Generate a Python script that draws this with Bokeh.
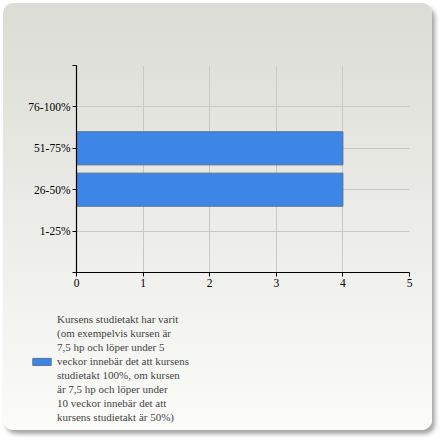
from bokeh.plotting import figure
from bokeh.layouts import column
from bokeh.models import Range1d, FixedTicker, Legend, LegendItem, ColumnDataSource
from bokeh.embed import file_html
from bokeh.resources import INLINE

categories = ["1-25%", "26-50%", "51-75%", "76-100%"]
values = [0, 4, 4, 0]
x_ticks = [0, 1, 2, 3, 4, 5]
series_label_lines = ["Kursens studietakt har varit", "(om exempelvis kursen är",
                      "7,5 hp och löper under 5", "veckor innebär det att kursens",
                      "studietakt 100%, om kursen", "är 7,5 hp och löper under",
                      "10 veckor innebär det att", "kursens studietakt är 50%)"]
swatch_line = 3   # the legend swatch sits beside this wrapped line

FONT = "Liberation Serif"
BAR_FILL, BAR_LINE = "#3d86e8", "#5a7090"
W = 429           # card from page (3,3) to (432,430)
H1, H2 = 290, 137

p = figure(width=W, height=H1, output_backend="svg", toolbar_location=None,
           x_range=Range1d(0, 5), y_range=Range1d(0, len(categories) + 1),
           min_border_left=73, min_border_right=W - 406,
           min_border_top=62, min_border_bottom=H1 - 269)
p.border_fill_color = None
p.background_fill_alpha = 0
p.outline_line_color = None
p.frame_align = False

src = ColumnDataSource(dict(y=list(range(1, len(categories) + 1)), v=values))
r = p.hbar(y="y", left=0, right="v", height=0.8, source=src,
           fill_color=BAR_FILL, line_color=BAR_LINE, line_width=1)

p.xaxis.ticker = FixedTicker(ticks=x_ticks)
p.yaxis.ticker = FixedTicker(ticks=list(range(0, len(categories) + 2)))
ov = {0: "", len(categories) + 1: ""}
for i, c in enumerate(categories):
    ov[i + 1] = c
p.yaxis.major_label_overrides = ov
for ax in (p.xaxis[0], p.yaxis[0]):
    ax.axis_line_color = "black"
    ax.axis_line_width = 1.2
    ax.major_tick_line_color = "black"
    ax.major_tick_in = 0
    ax.major_tick_out = 4
    ax.minor_tick_line_color = None
    ax.major_label_text_font = FONT
    ax.major_label_text_font_size = "11.5px"
    ax.major_label_text_color = "black"
    ax.major_label_standoff = 2
p.xgrid.grid_line_color = "#c8c8c4"
p.ygrid.grid_line_color = "#c8c8c4"
p.xgrid.ticker = FixedTicker(ticks=x_ticks[1:])
p.ygrid.ticker = FixedTicker(ticks=list(range(1, len(categories) + 2)))

# legend panel: same bar source, its range keeps the bars out of view
lf = figure(width=W, height=H2, output_backend="svg", toolbar_location=None,
            x_range=Range1d(0, 5), y_range=Range1d(100, 101),
            x_axis_type=None, y_axis_type=None,
            min_border_left=0, min_border_right=0, min_border_top=0, min_border_bottom=0)
lf.border_fill_color = None
lf.background_fill_alpha = 0
lf.outline_line_color = None
lf.grid.visible = False
lf.frame_align = False
proxy = lf.hbar(y="y", left=0, right="v", height=0.8, source=src,
                fill_color=BAR_FILL, line_color=BAR_LINE, line_width=1)
# invisible swatch for the wrapped continuation lines of the same label
blank = lf.hbar(y="y", left=0, right="v", height=0.8, source=src,
                fill_alpha=0, line_alpha=0)
items = [LegendItem(label=t, renderers=[proxy] if i == swatch_line else [blank], index=1)
         for i, t in enumerate(series_label_lines)]
legend = Legend(items=items,
                location=(27, 6), padding=0, margin=0, spacing=0,
                glyph_width=23, glyph_height=9, label_standoff=4, label_height=14,
                label_text_font=FONT, label_text_font_size="11px",
                border_line_color=None, background_fill_alpha=0)
lf.add_layout(legend, "center")

layout = column(p, lf, spacing=0,
                styles={"margin": "3px 0 0 3px", "border-radius": "10px",
                        "background": "linear-gradient(to bottom, #dcdcd6 0%, #fbfbf9 100%)",
                        "box-shadow": "3px 4px 4px rgba(90,90,90,0.55)"})

open("out.html", "w").write(file_html(layout, INLINE))
